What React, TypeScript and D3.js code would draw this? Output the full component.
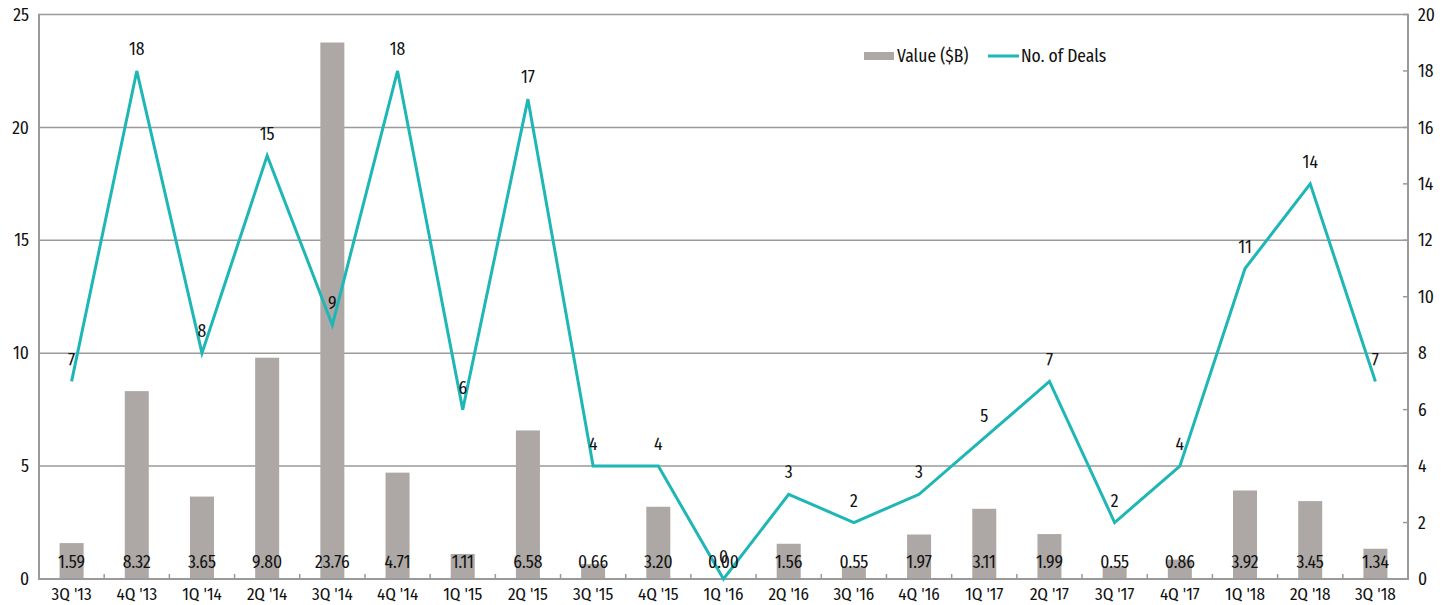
import React from "react";
import * as d3 from "d3";

const categories = ["3Q '13","4Q '13","1Q '14","2Q '14","3Q '14","4Q '14","1Q '15","2Q '15","3Q '15","4Q '15","1Q '16","2Q '16","3Q '16","4Q '16","1Q '17","2Q '17","3Q '17","4Q '17","1Q '18","2Q '18","3Q '18"];
const values = [1.59,8.32,3.65,9.80,23.76,4.71,1.11,6.58,0.66,3.20,0.00,1.56,0.55,1.97,3.11,1.99,0.55,0.86,3.92,3.45,1.34];
const deals = [7,18,8,15,9,18,6,17,4,4,0,3,2,3,5,7,2,4,11,14,7];
const leftTicks = [0,5,10,15,20,25];
const rightTicks = [0,2,4,6,8,10,12,14,16,18,20];

const W = 1443, H = 605;
const L = 39, R = 1408, T = 14.5, B = 579;
const FONT = "'Fira Sans Condensed', 'Liberation Sans Narrow', 'Roboto Condensed', 'Open Sans', sans-serif";
const FS = 17.5;

export default function App() {
  const x = d3.scaleBand<string>().domain(categories).range([L, R]).paddingInner(0).paddingOuter(0);
  const yL = d3.scaleLinear().domain([0, 25]).range([B, T]);
  const yR = d3.scaleLinear().domain([0, 20]).range([B, T]);
  const bw = 24;
  const cx = (c: string) => (x(c) as number) + x.bandwidth() / 2;
  const line = d3.line<number>().x((_, i) => cx(categories[i])).y(d => yR(d));
  const gridColor = "#9a9a9a";
  return (
    <svg width={W} height={H} style={{ position: "absolute", left: 0, top: 0, fontFamily: FONT }}>
      <rect width={W} height={H} fill="#fff" />
      {leftTicks.filter(t => t > 0).map(t => (
        <line key={"g" + t} x1={L} x2={R} y1={yL(t)} y2={yL(t)} stroke={gridColor} strokeWidth={1.5} />
      ))}
      {values.map((v, i) => (
        <rect key={"b" + i} x={cx(categories[i]) - bw / 2} y={yL(v)} width={bw} height={B - yL(v)} fill="#ada8a5" />
      ))}
      <line x1={L} x2={L} y1={T - 0.75} y2={B} stroke={gridColor} strokeWidth={2} />
      <line x1={R} x2={R} y1={T - 0.75} y2={B} stroke={gridColor} strokeWidth={2} />
      <line x1={L - 1} x2={R + 1} y1={B} y2={B} stroke={gridColor} strokeWidth={2} />
      {categories.map((c, i) => i > 0 ? (
        <line key={"t" + i} x1={x(c) as number} x2={x(c) as number} y1={B} y2={B - 5} stroke={gridColor} strokeWidth={1.5} />
      ) : null)}
      {rightTicks.map(t => (
        <line key={"rt" + t} x1={R - 5} x2={R} y1={yR(t)} y2={yR(t)} stroke={gridColor} strokeWidth={1.5} />
      ))}
      <path d={line(deals) as string} fill="none" stroke="#1fb6b6" strokeWidth={3} strokeLinejoin="miter" />
      {leftTicks.map(t => (
        <text key={"lt" + t} x={29} y={yL(t)} dy="0.35em" textAnchor="end" fontSize={FS} fill="#111">{t}</text>
      ))}
      {rightTicks.map(t => (
        <text key={"rl" + t} x={1418} y={yR(t)} dy="0.35em" textAnchor="start" fontSize={FS} fill="#111">{t}</text>
      ))}
      {categories.map((c, i) => (
        <text key={"xl" + i} x={cx(c)} y={594} dy="0.35em" textAnchor="middle" fontSize={FS - 0.5} fill="#111">{c}</text>
      ))}
      {values.map((v, i) => (
        <text key={"vl" + i} x={cx(categories[i])} y={562} dy="0.35em" textAnchor="middle" fontSize={FS} fill="#111">{v.toFixed(2)}</text>
      ))}
      {deals.map((d, i) => (
        <text key={"dl" + i} x={cx(categories[i])} y={yR(d) - 22} dy="0.35em" textAnchor="middle" fontSize={FS} fill="#111">{d}</text>
      ))}
      <rect x={864} y={52} width={30} height={8} fill="#ada8a5" />
      <text x={897} y={56} dy="0.35em" fontSize={FS} fill="#111">Value ($B)</text>
      <line x1={988} x2={1019} y1={56} y2={56} stroke="#1fb6b6" strokeWidth={3} />
      <text x={1021} y={56} dy="0.35em" fontSize={FS} fill="#111">No. of Deals</text>
    </svg>
  );
}
